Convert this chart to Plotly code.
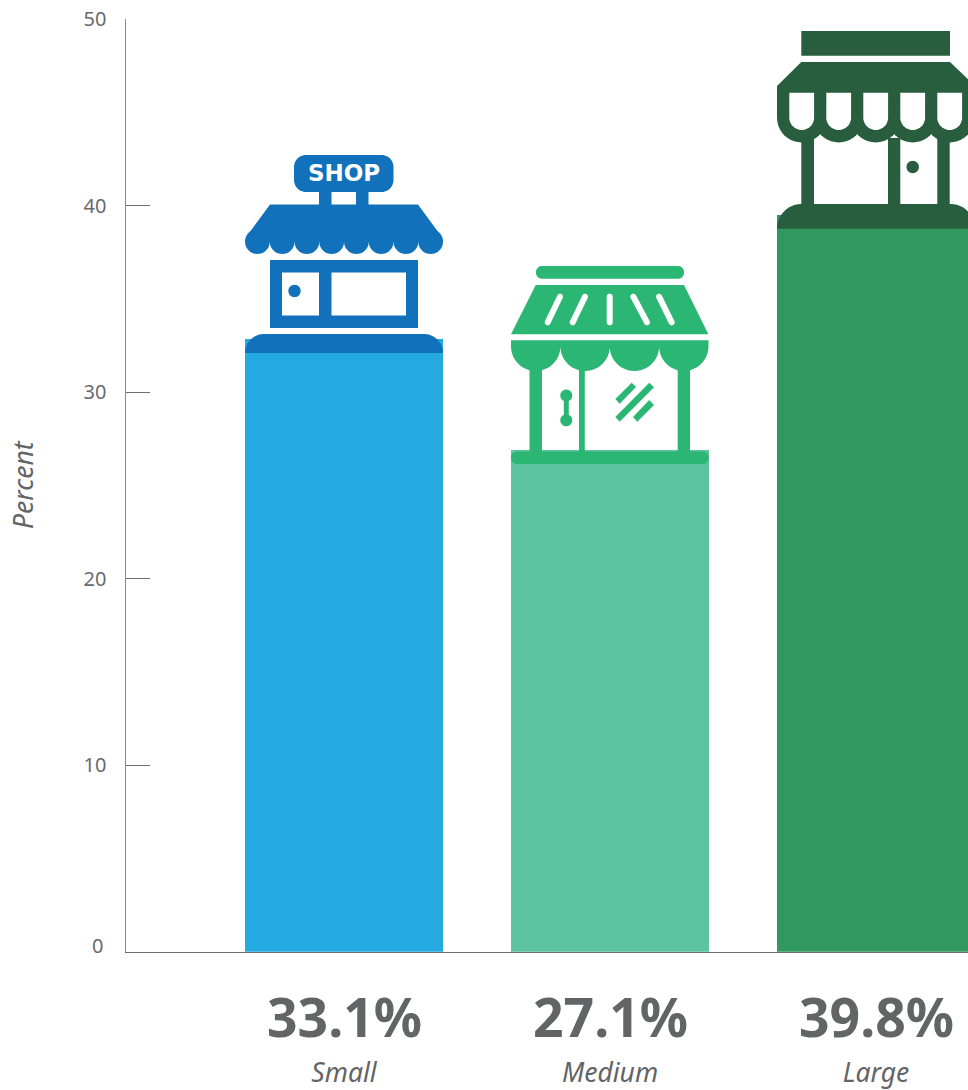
import math
import plotly.graph_objects as go

# Data
categories = ["Small", "Medium", "Large"]
shares = [33.1, 27.1, 39.8]
bar_colors = ["#25A9E1", "#5DC3A0", "#31995F"]
y_ticks = [0, 10, 20, 30, 40, 50]
y_tick_text = ["", "10", "20", "30", "40", "50"]

# Palette
BLUE = "#1172BB"
MINT = "#2CB673"
PINE = "#285D3D"
WHITE = "#FFFFFF"
TEXT = "#636466"
TICK_TEXT = "#6A6A6C"
AXIS = "#6E6E6E"

W, H = 968, 1090
shapes = []


def arc(cx, cy, rx, ry, a0, a1, n=24):
    """Points along an elliptical arc; angles in degrees, y pointing down."""
    return [
        (cx + rx * math.cos(math.radians(a0 + (a1 - a0) * i / n)),
         cy + ry * math.sin(math.radians(a0 + (a1 - a0) * i / n)))
        for i in range(n + 1)
    ]


def poly(points, color):
    d = "M" + " L".join(f"{x:.2f},{y:.2f}" for x, y in points) + " Z"
    shapes.append(dict(type="path", path=d, fillcolor=color, line_width=0,
                       xref="x3", yref="y3", layer="above"))


def rect(x0, y0, x1, y1, color):
    poly([(x0, y0), (x1, y0), (x1, y1), (x0, y1)], color)


def circle(cx, cy, r, color):
    poly(arc(cx, cy, r, r, 0, 360, 40), color)


def rounded(x0, y0, x1, y1, r, color):
    poly(arc(x0 + r, y0 + r, r, r, 180, 270) + arc(x1 - r, y0 + r, r, r, 270, 360)
         + arc(x1 - r, y1 - r, r, r, 0, 90) + arc(x0 + r, y1 - r, r, r, 90, 180), color)


def capsule(x0, y0, x1, y1, w, color):
    ang = math.degrees(math.atan2(y1 - y0, x1 - x0))
    r = w / 2
    poly(arc(x0, y0, r, r, ang + 90, ang + 270) + arc(x1, y1, r, r, ang - 90, ang + 90), color)


# Small storefront: sign on two posts, scalloped awning, framed window and door
rounded(294, 155, 393.5, 192, 12, BLUE)
rect(319, 190, 331.5, 207, BLUE)
rect(356, 190, 368.5, 207, BLUE)
poly([(270, 204.5), (418, 204.5), (441.5, 236.5), (441.5, 242), (246.5, 242), (246.5, 236.5)], BLUE)
for i in range(8):
    circle(257.4 + 24.75 * i, 241.6, 12.4, BLUE)
rect(270, 260, 418, 328, BLUE)
rect(282, 272.5, 319, 315.5, WHITE)
rect(331.5, 272.5, 406, 315.5, WHITE)
circle(294.5, 291, 6.2, BLUE)
poly(arc(264, 353, 19, 19, 180, 270) + arc(424, 353, 19, 19, 270, 360), BLUE)

# Medium storefront: striped awning over half-round valance and columns
rounded(536, 266, 684, 278.7, 6, MINT)
poly([(535.7, 285), (684, 285), (708.4, 334.3), (511, 334.3)], MINT)
for seg in [(560, 296.7, 547.7, 322.3), (585, 296.7, 572.7, 322.3),
            (609.7, 296.7, 609.7, 322.3), (633.3, 296.7, 647, 322.3),
            (659, 296.7, 671.7, 322.3)]:
    capsule(*seg, 6, WHITE)
valance = [(511, 340.3), (708.5, 340.3)]
for cx in (683.8, 634.4, 585.1, 535.7):
    valance += arc(cx, 346.3, 24.7, 24.7, 0, 180)
poly(valance, MINT)
rect(529.5, 365, 542, 455, MINT)
rect(579, 365, 584.8, 455, MINT)
rect(677.7, 365, 690, 455, MINT)
rounded(511, 451.5, 708.5, 464, 6, MINT)
circle(566.3, 395.5, 6, MINT)
circle(566.3, 420.3, 6, MINT)
rect(563.8, 395.5, 568.8, 420.3, MINT)
poly([(631.7, 382.7), (636, 387), (619.7, 403.7), (615.3, 399)], MINT)
poly([(649.3, 382.7), (654, 387.3), (619.7, 421.7), (615.3, 417)], MINT)
poly([(649.3, 400), (654, 405), (637.3, 421.7), (633, 417)], MINT)

# Large storefront: fascia, pitched roof, arched valance with cut-outs
rect(801.3, 31, 950, 55.7, PINE)
poly([(801.3, 62), (950, 62), (975, 86), (975, 118), (777, 118), (777, 86)], PINE)
hole_centres = [801.7, 838.7, 875.7, 912.7, 949.7]
for cx in hole_centres:
    circle(cx, 117.7, 24.7, PINE)
rect(801.3, 138, 814, 206, PINE)
rect(888, 138, 900.3, 206, PINE)
rect(937.3, 138, 949.7, 206, PINE)
for cx in hole_centres:
    poly([(cx - 12.4, 92.7), (cx + 12.4, 92.7)] + arc(cx, 117.6, 12.4, 12.4, 0, 180), WHITE)
circle(912.7, 167, 6.2, PINE)
poly(arc(801.5, 228.7, 24.5, 24.7, 180, 270) + arc(950.5, 228.7, 24.5, 24.7, 270, 360), PINE)

fig = go.Figure()

# Empty traces keep the tick axis and the full-page overlay axes alive
fig.add_trace(go.Scatter(x=[], y=[], xaxis="x", yaxis="y", showlegend=False))
fig.add_trace(go.Scatter(x=[], y=[], xaxis="x3", yaxis="y3", showlegend=False))

fig.add_trace(go.Bar(
    x=categories, y=shares, xaxis="x", yaxis="y2",
    marker=dict(color=bar_colors, line_width=0),
    width=198 / 266, showlegend=False, hoverinfo="skip",
))

annotations = [
    dict(xref="x", yref="y3", x=cat, y=1016, text=f"<b>{val:.1f}%</b>", showarrow=False,
         font=dict(family="Noto Sans", size=53.5, color=TEXT), xanchor="center", yanchor="middle")
    for cat, val in zip(categories, shares)
]
annotations += [
    dict(xref="x3", yref="y3", x=105, y=945.5, text="0", showarrow=False,
         font=dict(family="Noto Sans", size=20, color=TICK_TEXT), xanchor="right", yanchor="middle"),
    dict(xref="x3", yref="y3", x=23, y=485, text="Percent", textangle=-90, showarrow=False,
         font=dict(family="Noto Sans", size=26.5, color=TEXT, style="italic"),
         xanchor="center", yanchor="middle"),
    dict(xref="x3", yref="y3", x=344, y=172.5, text="<b>SHOP</b>", showarrow=False,
         font=dict(family="DejaVu Sans", size=23, color=WHITE), xanchor="center", yanchor="middle"),
]

PLOT_LEFT = 125.6
PLOT_BOTTOM = 951.8
PLOT_TOP = 19.3
y_domain = [1 - PLOT_BOTTOM / H, 1 - PLOT_TOP / H]

fig.update_layout(
    width=W, height=H, autosize=False,
    margin=dict(l=0, r=0, t=0, b=0),
    paper_bgcolor=WHITE, plot_bgcolor="rgba(0,0,0,0)",
    bargap=0, hovermode=False,
    xaxis=dict(
        domain=[PLOT_LEFT / W, 1], anchor="y", type="category", automargin=False,
        categoryorder="array", categoryarray=categories,
        range=[-(344 - PLOT_LEFT) / 266, 2 + 92 / 266],
        showline=True, linecolor=AXIS, linewidth=1.2, showgrid=False, zeroline=False,
        ticks="", ticklabelstandoff=97,
        tickfont=dict(family="Noto Sans", size=26.5, color=TEXT, style="italic"),
    ),
    yaxis=dict(
        domain=y_domain, anchor="x", range=[0, 50], automargin=False,
        tickmode="array", tickvals=y_ticks, ticktext=y_tick_text,
        ticks="inside", ticklen=24, tickwidth=1.3, tickcolor=AXIS,
        showline=True, linecolor="#8A8A8A", linewidth=1.4, showgrid=False, zeroline=False,
        ticklabelstandoff=14,
        tickfont=dict(family="Noto Sans", size=20, color=TICK_TEXT),
    ),
    # Bars use their own zero-based scale, aligned to the same baseline
    yaxis2=dict(domain=y_domain, anchor="x", overlaying="y",
                range=[0, (PLOT_BOTTOM - PLOT_TOP) / 18.5],
                visible=False, automargin=False),
    xaxis3=dict(domain=[0, 1], range=[0, W], anchor="y3", visible=False, fixedrange=True,
                automargin=False),
    yaxis3=dict(domain=[0, 1], range=[H, 0], anchor="x3", visible=False, fixedrange=True,
                automargin=False),
    shapes=shapes,
    annotations=annotations,
)

fig.write_html("out.html", config=dict(displayModeBar=False))
